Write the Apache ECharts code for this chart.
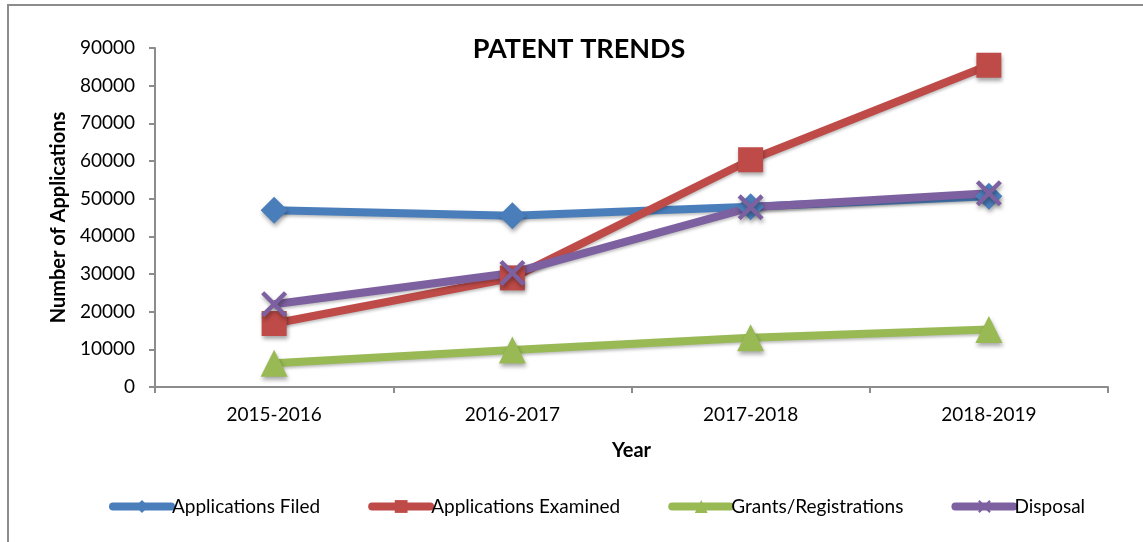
<!DOCTYPE html>
<html>
<head>
<meta charset="utf-8">
<script src="https://cdn.jsdelivr.net/npm/echarts@6/dist/echarts.min.js"></script>
<style>
html,body{margin:0;padding:0;background:#fff;}
#main{width:1143px;height:542px;}
</style>
</head>
<body>
<div id="main"></div>
<script>
var years = ['2015-2016', '2016-2017', '2017-2018', '2018-2019'];
var filed = [46904, 45444, 47854, 50659];
var examined = [16851, 28967, 60330, 85426];
var grants = [6326, 9847, 13045, 15283];
var disposal = [21987, 30271, 47695, 51439];

var fontName = 'Lato';
var crossPath = 'path://M0,1.2L1.2,0L10,8.8L8.8,10Z M8.8,0L10,1.2L1.2,10L0,8.8Z';

function mkSeries(name, data, color, symbol, size) {
	return {
		name: name,
		type: 'line',
		data: data,
		symbol: symbol,
		symbolSize: size,
		showAllSymbol: true,
		lineStyle: {
			color: color,
			width: 8,
			shadowColor: 'rgba(0,0,0,0.25)',
			shadowBlur: 3,
			shadowOffsetY: 2
		},
		itemStyle: {
			color: color,
			borderWidth: 0,
			shadowColor: 'rgba(0,0,0,0.35)',
			shadowBlur: 4,
			shadowOffsetX: 1,
			shadowOffsetY: 3
		},
		emphasis: { disabled: true }
	};
}

var myChart = echarts.init(document.getElementById('main'));
var option = {
	backgroundColor: '#fff',
	animation: false,
	textStyle: { fontFamily: fontName },
	title: {
		text: 'PATENT TRENDS',
		left: 574,
		textAlign: 'center',
		top: 31,
		textStyle: { fontSize: 27, fontWeight: 'bold', color: '#000', fontFamily: fontName }
	},
	graphic: [
		{ type: 'line', shape: { x1: 7, y1: 5, x2: 1143, y2: 5 }, style: { stroke: '#8c8c8c', lineWidth: 2 } },
		{ type: 'line', shape: { x1: 8, y1: 5, x2: 8, y2: 542 }, style: { stroke: '#8c8c8c', lineWidth: 2 } }
	],
	legend: {
		bottom: 21,
		left: 104,
		itemWidth: 58,
		itemHeight: 16,
		itemGap: 48,
		lineStyle: { width: 8, cap: 'round' },
		textStyle: { fontSize: 19, color: '#000', fontFamily: fontName, padding: [0, 0, 0, -4] },
		data: ['Applications Filed', 'Applications Examined', 'Grants/Registrations', 'Disposal']
	},
	grid: { left: 155, right: 35, top: 48, bottom: 155, containLabel: false },
	xAxis: {
		type: 'category',
		data: years,
		boundaryGap: true,
		name: 'Year',
		nameLocation: 'middle',
		nameGap: 54,
		nameTextStyle: { fontSize: 20, fontWeight: 'bold', color: '#000' },
		axisLine: { lineStyle: { color: '#8c8c8c', width: 2 } },
		axisTick: { show: true, length: 6, lineStyle: { color: '#8c8c8c', width: 2 } },
		axisLabel: { fontSize: 19, color: '#000', margin: 18 },
		splitLine: { show: false }
	},
	yAxis: {
		type: 'value',
		min: 0,
		max: 90000,
		interval: 10000,
		name: 'Number of Applications',
		nameLocation: 'middle',
		nameGap: 82,
		nameTextStyle: { fontSize: 20, fontWeight: 'bold', color: '#000' },
		axisLine: { show: true, lineStyle: { color: '#8c8c8c', width: 2 } },
		axisTick: { show: true, inside: false, length: 6, lineStyle: { color: '#8c8c8c', width: 2 } },
		axisLabel: { fontSize: 19, color: '#000', margin: 20, formatter: function (v) { return String(v); } },
		splitLine: { show: false }
	},
	series: [
		mkSeries('Applications Filed', filed, '#4a7ebb', 'diamond', 27),
		mkSeries('Applications Examined', examined, '#be4b48', 'rect', 25),
		mkSeries('Grants/Registrations', grants, '#98b954', 'triangle', 27),
		mkSeries('Disposal', disposal, '#7d60a0', crossPath, 26)
	]
};
myChart.setOption(option);
</script>
</body>
</html>
